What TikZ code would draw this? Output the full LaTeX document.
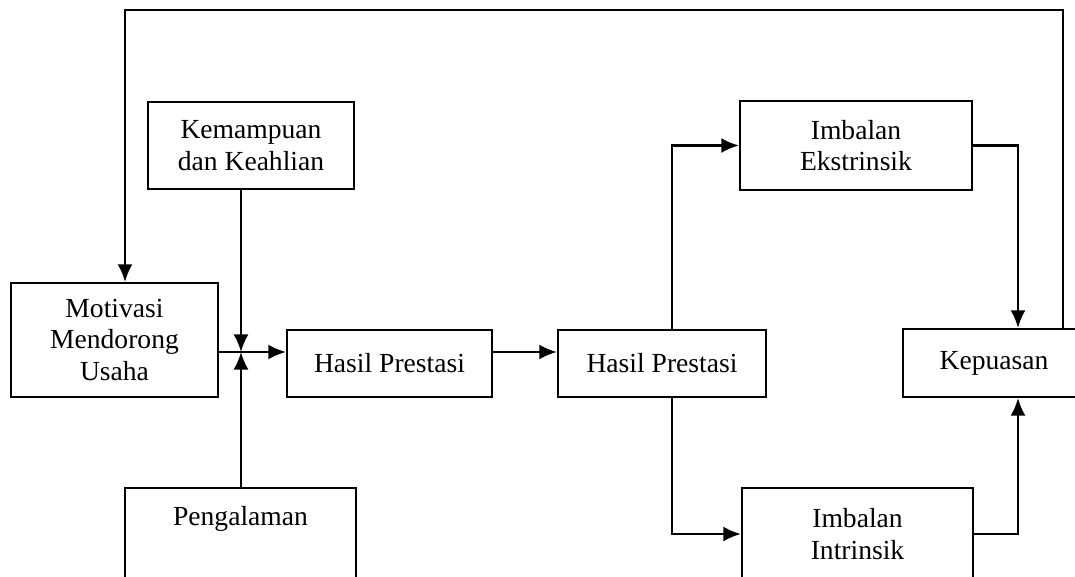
\documentclass[tikz,border=0pt]{standalone}
\usepackage{fontspec}
\setmainfont{Liberation Serif}
\usetikzlibrary{arrows.meta,positioning}
\tikzstyle{orientedarc}=[->,>={Latex[length=10pt,width=8.5pt]},line width=1.2pt]
\tikzstyle{arc}=[line width=1.2pt]
\tikzstyle{diagramelement}=[draw,line width=1.3pt,align=center,font=\fontsize{15.7pt}{18pt}\selectfont,inner sep=0pt]

\begin{document}
\begin{tikzpicture}[x=0.02cm,y=-0.02cm]
\useasboundingbox (0,0) rectangle (1075,577);
\clip (0,0) rectangle (1075,577);

\node[diagramelement,minimum width=4.14cm,minimum height=2.28cm] (MOT) at (114.5,340) {Motivasi\\Mendorong\\Usaha};
\node[diagramelement,minimum width=4.12cm,minimum height=1.74cm] (KEM) at (251,145.5) {Kemampuan\\dan Keahlian};
\node[diagramelement,minimum width=4.62cm,minimum height=2.4cm,text depth=37pt] (PEN) at (240.5,548) {Pengalaman};
\node[diagramelement,minimum width=4.10cm,minimum height=1.34cm] (HP1) at (389.5,363.5) {Hasil Prestasi};
\node[diagramelement,minimum width=4.16cm,minimum height=1.34cm] (HP2) at (662,363.5) {Hasil Prestasi};
\node[diagramelement,minimum width=4.64cm,minimum height=1.78cm] (IEK) at (856,145.5) {Imbalan\\Ekstrinsik};
\node[diagramelement,minimum width=4.62cm,minimum height=1.84cm] (IIN) at (857.5,534) {Imbalan\\Intrinsik};
\node[diagramelement,minimum width=3.64cm,minimum height=1.36cm] (KEP) at (994,363) {Kepuasan};

% junction and corners
\coordinate (J) at (241,352);
\coordinate (HPB) at (672,0);
\coordinate (KPB) at (1018,0);
\coordinate (TOPR) at (1063,10);
\coordinate (TOPL) at (125,10);

\draw[orientedarc] (MOT.east |- J) -- (HP1.west |- J);
\draw[orientedarc] (J |- KEM.south) -- (J);
\draw[orientedarc] (J |- PEN.north) -- (J);

\draw[orientedarc] (HP1.east |- J) -- (HP2.west |- J);

\draw[orientedarc] (HPB |- HP2.north) |- (IEK.west);
\draw[orientedarc] (HPB |- HP2.south) |- (IIN.west);

\draw[orientedarc] (IEK.east) -| (KPB |- KEP.north);
\draw[orientedarc] (IIN.east) -| (KPB |- KEP.south);

\draw[orientedarc] (TOPR |- KEP.north) -- (TOPR) -- (TOPL) -- (TOPL |- MOT.north);

\end{tikzpicture}
\end{document}
